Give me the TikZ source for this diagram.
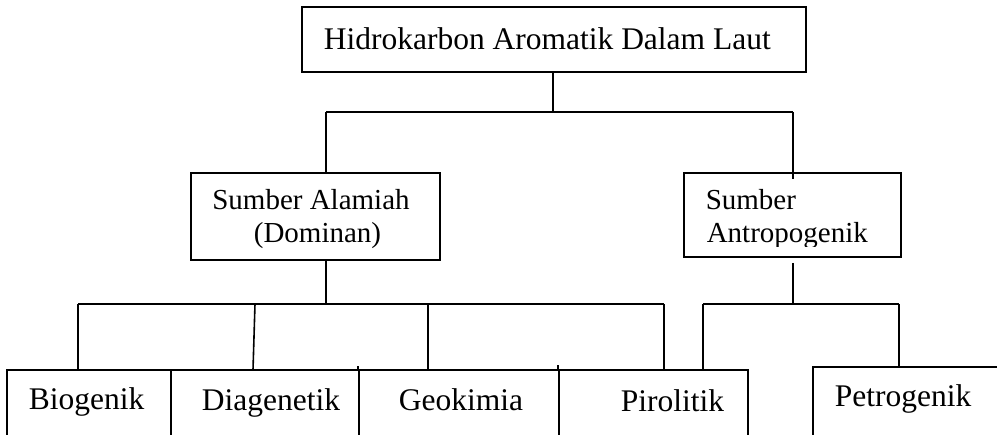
\documentclass[tikz,border=0pt]{standalone}
\usepackage{fontspec}
\setmainfont{Liberation Serif}
\usetikzlibrary{calc}
\begin{document}
\begin{tikzpicture}[x=1pt,y=-1pt,
  line width=1.6pt,
  box/.style={draw, rectangle, inner sep=0pt, line width=1.6pt},
  big/.style={font=\fontsize{31.5}{36}\selectfont},
  mid/.style={font=\fontsize{29}{33}\selectfont},
  lbl/.style={inner sep=0pt},
]
\useasboundingbox (0,0) rectangle (997,435);
\clip (0,0) rectangle (997,435);

% boxes
\node[box, minimum width=504pt, minimum height=65pt] (top) at (554,39.5) {};
\node[box, minimum width=249pt, minimum height=87pt] (alam) at (315.5,216.5) {};
\node[box, minimum width=217pt, minimum height=84pt] (antro) at (792.5,215) {};
\node[box, minimum width=164pt, minimum height=100pt] (bio) at (89,420) {};
\node[box, minimum width=188pt, minimum height=100pt] (dia) at (265,420) {};
\node[box, minimum width=200pt, minimum height=100pt] (geo) at (459,420) {};
\node[box, minimum width=189pt, minimum height=100pt] (piro) at (653.5,420) {};
\node[box, minimum width=197pt, minimum height=103pt] (petro) at (911.5,418.5) {};

% texts
\node[lbl, big, anchor=base west] (toptxt) at (323,50) {Hidrokarbon Aromatik Dalam Laut};
\node[lbl, mid, anchor=base] (alam1) at (311,210) {Sumber Alamiah};
\node[lbl, mid, anchor=base] (alam2) at (317.5,243) {(Dominan)};
\begin{scope}
  \clip (684,173) rectangle (901,247);
  \node[lbl, mid, anchor=base west] (antro1) at (705,210) {Sumber};
  \node[lbl, mid, anchor=base west] (antro2) at (706,243) {Antropogenik};
\end{scope}
\node[lbl, big, anchor=base west] (biotxt) at (28,410) {Biogenik};
\node[lbl, big, anchor=base west] (diatxt) at (201,411) {Diagenetik};
\node[lbl, big, anchor=base west] (geotxt) at (398,411) {Geokimia};
\node[lbl, big, anchor=base west] (pirotxt) at (620,412) {Pirolitik};
\node[lbl, big, anchor=base west] (petrotxt) at (834,407) {Petrogenik};

% divider overshoots
\draw (geo.north west) -- ++(0,-3);
\draw (piro.north west) -- ++(0,-4);

% connectors, upper level
\coordinate (t1) at (553,112);
\coordinate (bl) at (326,112);
\coordinate (br) at (793,112);
\coordinate (brin) at (793,179);
\draw (top.south -| t1) -- (t1);
\draw (bl) -- (br);
\draw (bl) -- (bl |- alam.north);
\draw (br) -- (brin);

% connectors, natural sources
\coordinate (a1) at (326,304);
\coordinate (h1) at (78,304);
\coordinate (h2) at (255,304);
\coordinate (h2e) at (253,370);
\coordinate (h3) at (428,304);
\coordinate (h4) at (664,304);
\draw (alam.south -| a1) -- (a1);
\draw (h1) -- (h4);
\draw (h1) -- (h1 |- bio.north);
\draw (h2) -- (h2e);
\draw (h3) -- (h3 |- geo.north);
\draw (h4) -- (h4 |- piro.north);

% connectors, anthropogenic sources
\coordinate (r0) at (793,263);
\coordinate (r1) at (793,304);
\coordinate (r2) at (703,304);
\coordinate (r3) at (899,304);
\draw (r0) -- (r1);
\draw (r2) -- (r3);
\draw (r2) -- (r2 |- piro.north);
\draw (r3) -- (r3 |- petro.north);
\end{tikzpicture}
\end{document}
